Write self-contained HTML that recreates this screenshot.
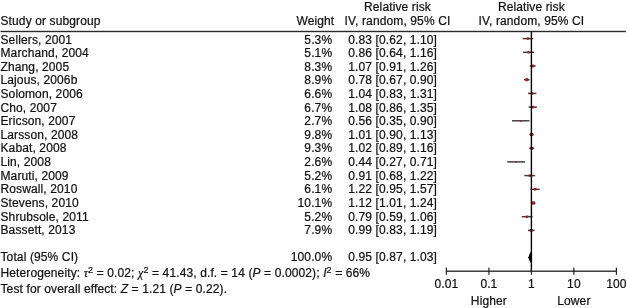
<!DOCTYPE html><html><head><meta charset="utf-8"><style>html,body{margin:0;padding:0;background:#fff;}svg{display:block;will-change:transform}text{font-family:"Liberation Sans",sans-serif;font-size:12px;letter-spacing:0.12px;fill:#111;stroke:#111;stroke-width:0.22px}.g{font-family:"Liberation Serif",serif;font-style:italic}.i{font-style:italic}</style></head><body>
<svg width="627" height="308" viewBox="0 0 627 308">
<text x="397.5" y="10.5" text-anchor="middle">Relative risk</text>
<text x="531.4" y="10.5" text-anchor="middle">Relative risk</text>
<text x="0.5" y="24.8">Study or subgroup</text>
<text x="334.3" y="24.8" text-anchor="end">Weight</text>
<text x="397.5" y="24.8" text-anchor="middle">IV, random, 95% CI</text>
<text x="531.4" y="24.8" text-anchor="middle">IV, random, 95% CI</text>
<rect x="0.5" y="30.8" width="625.3" height="1.4" fill="#2a2a2a"/>
<text x="0.5" y="43.50">Sellers, 2001</text>
<text x="332.2" y="43.50" text-anchor="end">5.3%</text>
<text x="348.3" y="43.50">0.83 [0.62, 1.10]</text>
<rect x="522.58" y="37.85" width="10.58" height="1.5" fill="#404040"/>
<rect x="526.81" y="37.45" width="2.30" height="2.30" fill="#a51a1e"/>
<text x="0.5" y="57.12">Marchand, 2004</text>
<text x="332.2" y="57.12" text-anchor="end">5.1%</text>
<text x="348.3" y="57.12">0.86 [0.64, 1.16]</text>
<rect x="523.16" y="51.55" width="10.98" height="1.5" fill="#404040"/>
<rect x="527.49" y="51.17" width="2.26" height="2.26" fill="#a51a1e"/>
<text x="0.5" y="70.74">Zhang, 2005</text>
<text x="332.2" y="70.74" text-anchor="end">8.3%</text>
<text x="348.3" y="70.74">1.07 [0.91, 1.26]</text>
<rect x="529.66" y="65.25" width="6.01" height="1.5" fill="#404040"/>
<rect x="531.21" y="64.56" width="2.88" height="2.88" fill="#a51a1e"/>
<text x="0.5" y="84.36">Lajous, 2006b</text>
<text x="332.2" y="84.36" text-anchor="end">8.9%</text>
<text x="348.3" y="84.36">0.78 [0.67, 0.90]</text>
<rect x="524.01" y="78.95" width="5.45" height="1.5" fill="#404040"/>
<rect x="525.32" y="78.21" width="2.98" height="2.98" fill="#a51a1e"/>
<text x="0.5" y="97.98">Solomon, 2006</text>
<text x="332.2" y="97.98" text-anchor="end">6.6%</text>
<text x="348.3" y="97.98">1.04 [0.83, 1.31]</text>
<rect x="527.96" y="92.65" width="8.42" height="1.5" fill="#404040"/>
<rect x="530.84" y="92.12" width="2.57" height="2.57" fill="#a51a1e"/>
<text x="0.5" y="111.60">Cho, 2007</text>
<text x="332.2" y="111.60" text-anchor="end">6.7%</text>
<text x="348.3" y="111.60">1.08 [0.86, 1.35]</text>
<rect x="528.62" y="106.35" width="8.32" height="1.5" fill="#404040"/>
<rect x="531.53" y="105.81" width="2.59" height="2.59" fill="#a51a1e"/>
<text x="0.5" y="125.22">Ericson, 2007</text>
<text x="332.2" y="125.22" text-anchor="end">2.7%</text>
<text x="348.3" y="125.22">0.56 [0.35, 0.90]</text>
<rect x="512.02" y="120.05" width="17.43" height="1.5" fill="#404040"/>
<rect x="519.88" y="119.98" width="1.64" height="1.64" fill="#a51a1e"/>
<text x="0.5" y="138.84">Larsson, 2008</text>
<text x="332.2" y="138.84" text-anchor="end">9.8%</text>
<text x="348.3" y="138.84">1.01 [0.90, 1.13]</text>
<rect x="529.46" y="133.75" width="4.20" height="1.5" fill="#404040"/>
<rect x="530.02" y="132.93" width="3.13" height="3.13" fill="#a51a1e"/>
<text x="0.5" y="152.46">Kabat, 2008</text>
<text x="332.2" y="152.46" text-anchor="end">9.3%</text>
<text x="348.3" y="152.46">1.02 [0.89, 1.16]</text>
<rect x="529.25" y="147.45" width="4.89" height="1.5" fill="#404040"/>
<rect x="530.24" y="146.68" width="3.05" height="3.05" fill="#a51a1e"/>
<text x="0.5" y="166.08">Lin, 2008</text>
<text x="332.2" y="166.08" text-anchor="end">2.6%</text>
<text x="348.3" y="166.08">0.44 [0.27, 0.71]</text>
<rect x="507.23" y="161.15" width="17.85" height="1.5" fill="#404040"/>
<rect x="515.44" y="161.09" width="1.61" height="1.61" fill="#a51a1e"/>
<text x="0.5" y="179.70">Maruti, 2009</text>
<text x="332.2" y="179.70" text-anchor="end">5.2%</text>
<text x="348.3" y="179.70">0.91 [0.68, 1.22]</text>
<rect x="524.28" y="174.85" width="10.79" height="1.5" fill="#404040"/>
<rect x="528.52" y="174.46" width="2.28" height="2.28" fill="#a51a1e"/>
<text x="0.5" y="193.32">Roswall, 2010</text>
<text x="332.2" y="193.32" text-anchor="end">6.1%</text>
<text x="348.3" y="193.32">1.22 [0.95, 1.57]</text>
<rect x="530.45" y="188.55" width="9.27" height="1.5" fill="#404040"/>
<rect x="533.84" y="188.07" width="2.47" height="2.47" fill="#a51a1e"/>
<text x="0.5" y="206.94">Stevens, 2010</text>
<text x="332.2" y="206.94" text-anchor="end">10.1%</text>
<text x="348.3" y="206.94">1.12 [1.01, 1.24]</text>
<rect x="531.58" y="202.25" width="3.79" height="1.5" fill="#404040"/>
<rect x="531.90" y="201.41" width="3.18" height="3.18" fill="#a51a1e"/>
<text x="0.5" y="220.56">Shrubsole, 2011</text>
<text x="332.2" y="220.56" text-anchor="end">5.2%</text>
<text x="348.3" y="220.56">0.79 [0.59, 1.06]</text>
<rect x="521.66" y="215.95" width="10.81" height="1.5" fill="#404040"/>
<rect x="525.91" y="215.56" width="2.28" height="2.28" fill="#a51a1e"/>
<text x="0.5" y="234.18">Bassett, 2013</text>
<text x="332.2" y="234.18" text-anchor="end">7.9%</text>
<text x="348.3" y="234.18">0.99 [0.83, 1.19]</text>
<rect x="527.96" y="229.65" width="6.65" height="1.5" fill="#404040"/>
<rect x="529.81" y="228.99" width="2.81" height="2.81" fill="#a51a1e"/>
<text x="0.5" y="260.90">Total (95% CI)</text>
<text x="332.2" y="260.90" text-anchor="end">100.0%</text>
<text x="348.3" y="260.90">0.95 [0.87, 1.03]</text>
<polygon points="528.23,257.40 530.45,251.80 531.95,257.40 530.45,263.00" fill="#000"/>
<rect x="530.6999999999999" y="31" width="1.4" height="240.5" fill="#000"/>
<text x="0.5" y="276.6" xml:space="preserve">Heterogeneity: <tspan class="g">τ</tspan><tspan font-size="9" dy="-4">2</tspan><tspan dy="4"> = 0.02; </tspan><tspan class="g">χ</tspan><tspan font-size="9" dy="-4">2</tspan><tspan dy="4"> = 41.43, d.f. = 14 (</tspan><tspan class="i">P</tspan> = 0.0002); <tspan class="i">I</tspan><tspan font-size="9" dy="-4">2</tspan><tspan dy="4"> = 66%</tspan></text>
<text x="0.5" y="293.0" xml:space="preserve">Test for overall effect: <tspan class="i">Z</tspan> = 1.21 (<tspan class="i">P</tspan> = 0.22).</text>
<rect x="445.80" y="270.55" width="171.20" height="1.3" fill="#222"/>
<rect x="445.80" y="267.59999999999997" width="1.2" height="7.2" fill="#222"/>
<text x="446.40" y="288" text-anchor="middle">0.01</text>
<rect x="488.30" y="267.59999999999997" width="1.2" height="7.2" fill="#222"/>
<text x="488.90" y="288" text-anchor="middle">0.1</text>
<rect x="530.80" y="267.59999999999997" width="1.2" height="7.2" fill="#222"/>
<text x="531.40" y="288" text-anchor="middle">1</text>
<rect x="573.30" y="267.59999999999997" width="1.2" height="7.2" fill="#222"/>
<text x="573.90" y="288" text-anchor="middle">10</text>
<rect x="615.80" y="267.59999999999997" width="1.2" height="7.2" fill="#222"/>
<text x="616.40" y="288" text-anchor="middle">100</text>
<text x="488.90" y="304.6" text-anchor="middle">Higher</text>
<text x="573.90" y="304.6" text-anchor="middle">Lower</text>
</svg></body></html>
